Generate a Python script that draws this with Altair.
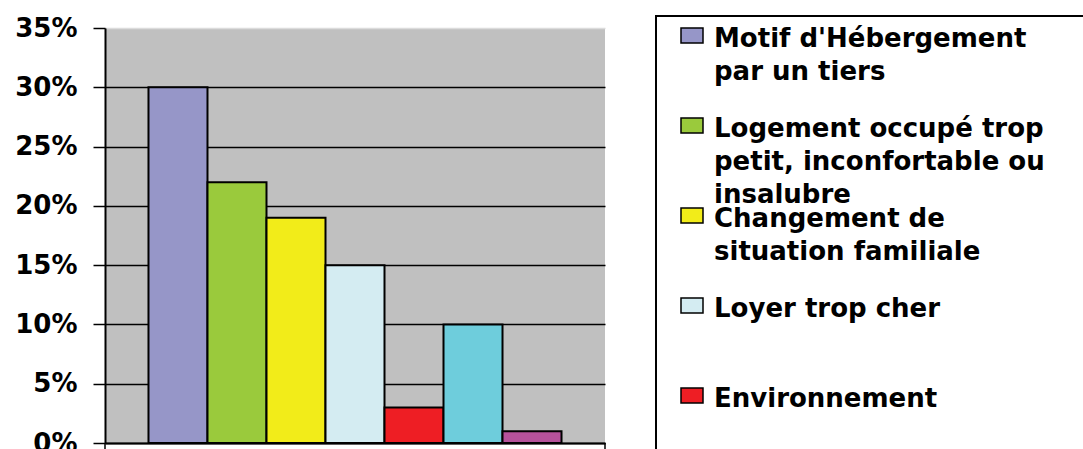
import altair as alt
import pandas as pd

# Reasons for the housing request (share of requests, in %)
categories = [
    "Motif d'Hébergement|par un tiers",
    "Logement occupé trop|petit, inconfortable ou|insalubre",
    "Changement de|situation familiale",
    "Loyer trop cher",
    "Environnement",
    "Sans logement",
    "Autres motifs",
]
values = [30, 22, 19, 15, 3, 10, 1]
colors = ["#9696C8", "#9ACA3C", "#F2EC19", "#D4ECF2", "#EE1E24", "#6ECDDC", "#B5529B"]
y_ticks = [0, 5, 10, 15, 20, 25, 30, 35]

df = pd.DataFrame({"motif": categories, "pct": values, "rang": list(range(len(categories)))})

W, H = 500, 415
FONT = "DejaVu Sans"
ROW = 90  # legend row pitch

color_scale = alt.Scale(domain=categories, range=colors)
base = alt.Chart(df)

bars = base.mark_bar(stroke="black", strokeWidth=2).encode(
    x=alt.X(
        "motif:N",
        sort=categories,
        scale=alt.Scale(paddingInner=0, paddingOuter=0.737),
        axis=alt.Axis(labels=False, ticks=False, title=None,
                      domainColor="black", domainWidth=2),
    ),
    y=alt.Y(
        "pct:Q",
        scale=alt.Scale(domain=[0, 35], nice=False, zero=True),
        axis=alt.Axis(
            values=y_ticks,
            labelExpr="datum.value + '%'",
            title=None,
            labelFont=FONT,
            labelFontWeight="bold",
            labelFontSize=26,
            labelColor="black",
            labelPadding=16,
            tickSize=12,
            tickColor="black",
            tickWidth=1.5,
            domainColor="black",
            domainWidth=2,
            grid=True,
            gridColor={"condition": {"test": "datum.value == 35", "value": "#dcdcdc"},
                       "value": "black"},
            gridWidth=1.5,
            gridOpacity=1,
        ),
    ),
    color=alt.Color("motif:N", scale=color_scale, legend=None),
)

# category-axis end ticks below the baseline
edge_ticks = base.transform_filter("datum.rang <= 1").transform_calculate(
    ex=f"datum.rang * {W}"
).mark_rule(color="black", strokeWidth=1.5).encode(
    x=alt.X("ex:Q", scale=None),
    y=alt.value(H),
    y2=alt.value(H + 20),
)

# legend frame
legend_box = base.transform_filter("datum.rang == 0").mark_rect(
    fill="white", stroke="black", strokeWidth=2
).encode(
    x=alt.value(551), x2=alt.value(1100),
    y=alt.value(-12), y2=alt.value(800),
)

swatches = base.transform_calculate(
    sy=f"datum.rang * {ROW}",
    sy2=f"datum.rang * {ROW} + 15",
).mark_rect(stroke="black", strokeWidth=1.5).encode(
    x=alt.value(576), x2=alt.value(598),
    y=alt.Y("sy:Q", scale=None), y2="sy2:Q",
    color=alt.Color("motif:N", scale=color_scale, legend=None),
)

legend_text = base.transform_calculate(
    ty=f"datum.rang * {ROW} - 2.5"
).mark_text(
    align="left", baseline="top", font=FONT, fontWeight="bold",
    fontSize=26, lineBreak="|", lineHeight=33, color="black",
).encode(
    x=alt.value(609),
    y=alt.Y("ty:Q", scale=None),
    text="motif:N",
)

chart = alt.layer(bars, edge_ticks, legend_box, swatches, legend_text).properties(
    width=W,
    height=H,
    autosize="none",
    padding={"left": 105, "top": 28, "right": 478, "bottom": 6},
    background="white",
).configure_view(stroke=None, fill="#C0C0C0")

chart.save("out.html", embed_options={"renderer": "svg", "actions": False})
